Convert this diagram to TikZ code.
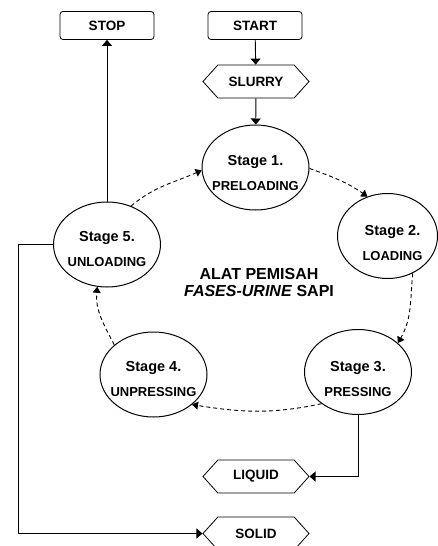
\documentclass[tikz,border=0pt]{standalone}
\usepackage{fontspec}
\setmainfont{Liberation Sans}
\usetikzlibrary{
  shapes.geometric,
  shapes.symbols,
  arrows.meta
}
\tikzset{
  box/.style={
    draw, rounded corners=3pt, line width=0.8pt,
    minimum width=94pt, minimum height=28pt, inner sep=0pt,
    font=\bfseries\fontsize{13.5}{15}\selectfont
  },
  hexa/.style={
    draw, line width=0.8pt,
    signal, signal to=west and east, signal pointer angle=96,
    minimum width=106pt, minimum height=33pt, inner sep=0pt,
    font=\bfseries\fontsize{13.5}{15}\selectfont
  },
  stage/.style={
    draw, ellipse, line width=1pt,
    minimum width=107pt, minimum height=85pt, inner sep=0pt
  },
  stagetext/.style={
    align=center, inner sep=0pt,
    font=\bfseries\fontsize{13}{15}\selectfont
  },
  flow/.style={
    line width=0.9pt,
    -{Triangle[width=10pt,length=6pt]}
  },
  cycle/.style={
    line width=0.9pt, dash pattern=on 4pt off 3pt,
    -{Triangle[width=8pt,length=6pt]}
  }
}

\begin{document}
\begin{tikzpicture}[x=1pt,y=1pt]
\useasboundingbox (0,0) rectangle (437,-546);

\node[box] (stop) at (107,-25.5) {STOP};
\node[box] (start) at (255,-25.5) {START};
\node[hexa] (slurry) at (256,-81.5) {SLURRY};

% the five stages
\node[stage] (s1) at (255.5,-167.5) {};
\node[stage, minimum width=100pt] (s2) at (387.5,-236) {};
\node[stage] (s3) at (358,-372) {};
\node[stage] (s4) at (153.5,-374.5) {};
\node[stage] (s5) at (107,-244.5) {};

\node[stagetext] (s1t) at ([yshift=-5pt]s1.center) {{\fontsize{14.5}{16}\selectfont Stage 1.}\\[10pt]PRELOADING};
\node[stagetext] (s2t) at ([xshift=5pt,yshift=-7pt]s2.center) {{\fontsize{14.5}{16}\selectfont Stage 2.}\\[10pt]LOADING};
\node[stagetext] (s3t) at ([yshift=-7pt]s3.center) {{\fontsize{14.5}{16}\selectfont Stage 3.}\\[10pt]PRESSING};
\node[stagetext] (s4t) at ([yshift=-4.5pt]s4.center) {{\fontsize{14.5}{16}\selectfont Stage 4.}\\[10pt]UNPRESSING};
\node[stagetext] (s5t) at ([yshift=-4pt]s5.center) {{\fontsize{14.5}{16}\selectfont Stage 5.}\\[10pt]UNLOADING};

\node[align=center, font=\bfseries\fontsize{16}{17}\selectfont] (title) at (259,-282.5)
  {ALAT PEMISAH\\\textit{FASES-URINE} SAPI};

\node[hexa] (liquid) at (256,-476.5) {LIQUID};
\node[hexa] (solid) at (256,-533.5) {SOLID};

\draw[flow] (start) -- (slurry);
\draw[flow] (slurry) -- (s1);
\draw[flow] (s5) -- (stop);
\draw[flow] (s5.west) -- +(-35,0) |- (solid.west);
\draw[flow] (s3.south) |- (liquid.east);

% dashed cycle
\draw[cycle] (s5.58) to[out=40,in=204] (s1.183);
\draw[cycle] (s1.-1) to[out=-20,in=145] (s2.117);
\draw[cycle] (s2.-56) to[out=-95,in=60] (s3.36);
\draw[cycle] (s3.221) to[out=192,in=-9] (s4.-38);
\draw[cycle] (s4.143) to[out=117,in=265] (s5.-103);
\end{tikzpicture}
\end{document}
